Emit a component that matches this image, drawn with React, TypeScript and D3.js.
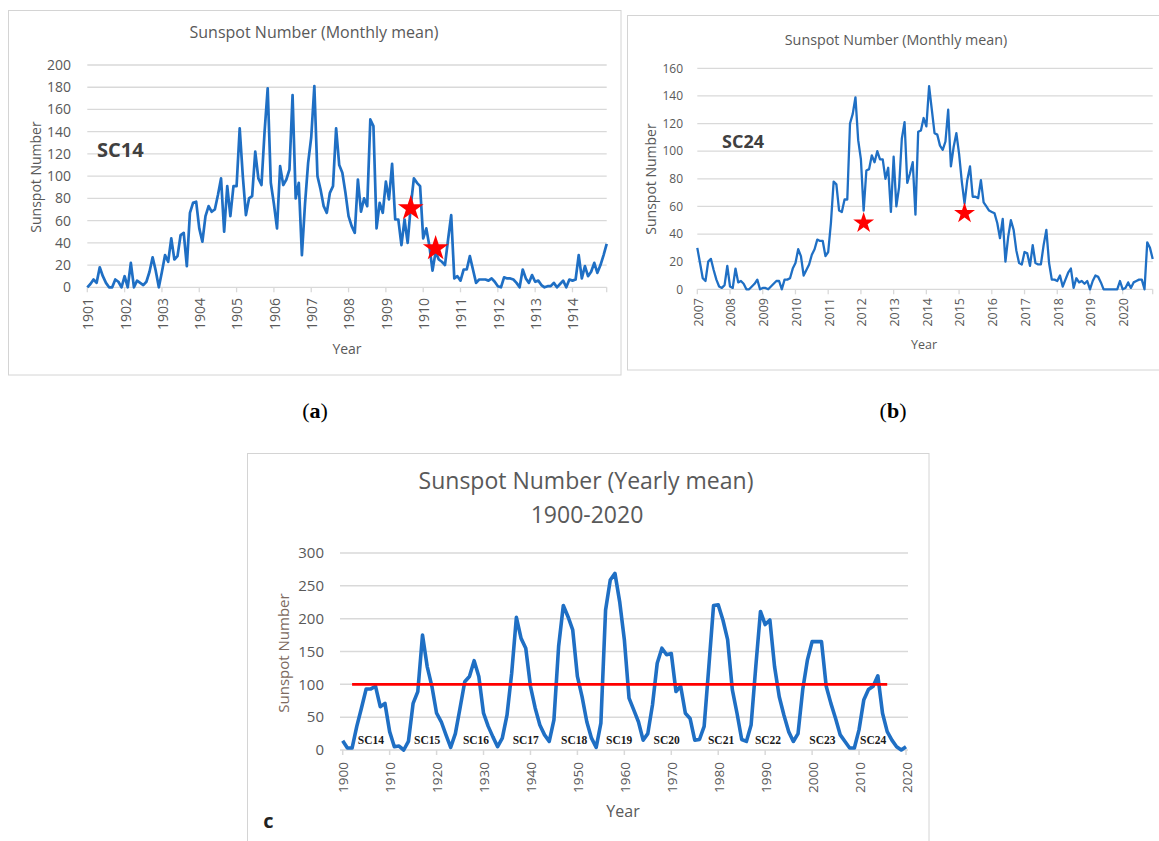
import React from 'react';
import * as d3 from 'd3';

// ---- data ----

// (a) monthly mean sunspot number, Jan 1901 .. Dec 1914
const sc14Monthly = [
  0, 3, 7, 4, 18, 10, 4, 0, 0, 7, 5, 0,
  10, 0, 22, 0, 6, 4, 2, 5, 14, 27, 15, 0,
  14, 29, 23, 44, 25, 28, 47, 49, 19, 67, 76, 77,
  53, 41, 64, 73, 68, 70, 83, 98, 50, 91, 64, 91,
  91, 143, 100, 65, 80, 82, 122, 98, 92, 140, 179, 94,
  75, 53, 109, 92, 97, 106, 173, 80, 94, 29, 75, 112,
  135, 181, 100, 88, 73, 67, 85, 91, 143, 110, 103, 85,
  64, 55, 49, 97, 68, 80, 73, 151, 145, 53, 76, 67,
  95, 79, 111, 61, 61, 38, 61, 40, 73, 98, 94, 91,
  44, 53, 37, 15, 32, 25, 23, 20, 43, 65, 8, 10,
  6, 16, 16, 28, 16, 4, 7, 7, 7, 6, 8, 5,
  1, 0, 9, 8, 8, 7, 4, 0, 16, 8, 4, 11,
  5, 6, 2, 0, 1, 1, 4, 0, 3, 6, 0, 7,
  6, 7, 29, 8, 19, 10, 14, 22, 13, 20, 29, 39,
];
const sc14Years = ['1901', '1902', '1903', '1904', '1905', '1906', '1907', '1908', '1909', '1910', '1911', '1912', '1913', '1914'];
const sc14Stars = [
  { month: 104, value: 71 },
  { month: 112, value: 35 },
];

// (b) monthly mean sunspot number, Jan 2007 .. Dec 2020
const sc24Monthly = [
  30, 19, 8, 6, 20, 22, 14, 7, 2, 1, 3, 17,
  2, 1, 15, 5, 6, 4, 0, 0, 2, 4, 7, 0,
  1, 1, 0, 2, 4, 6, 6, 0, 7, 7, 8, 15,
  19, 29, 24, 10, 14, 18, 25, 29, 36, 35, 35, 24,
  27, 48, 78, 76, 57, 56, 65, 65, 120, 127, 139, 108,
  94, 57, 86, 87, 97, 92, 100, 94, 94, 80, 88, 56,
  96, 60, 74, 109, 121, 77, 84, 92, 54, 114, 115, 124,
  118, 147, 130, 113, 112, 104, 101, 107, 130, 89, 103, 113,
  98, 78, 62, 79, 89, 67, 67, 66, 79, 63, 60, 57,
  56, 55, 48, 37, 51, 20, 38, 50, 43, 28, 19, 18,
  27, 26, 17, 32, 19, 18, 18, 32, 43, 19, 7, 7,
  6, 10, 2, 7, 12, 15, 1, 8, 5, 6, 4, 6,
  0, 6, 10, 9, 5, 0, 0, 0, 0, 0, 0, 6,
  0, 1, 5, 1, 5, 6, 7, 7, 0, 34, 30, 22,
];
const sc24Years = ['2007', '2008', '2009', '2010', '2011', '2012', '2013', '2014', '2015', '2016', '2017', '2018', '2019', '2020'];
const sc24Stars = [
  { month: 61, value: 48 },
  { month: 98, value: 55 },
];

// (c) yearly mean sunspot number, 1900 .. 2020
const firstYear = 1900;
const yearlyMean = [
  14, 3, 3, 36, 64, 93, 93, 97, 66, 71,
  28, 5, 6, 0, 13, 71, 89, 175, 127, 97,
  56, 43, 23, 4, 25, 64, 104, 112, 136, 112,
  56, 36, 20, 5, 18, 53, 117, 202, 170, 155,
  97, 64, 38, 23, 13, 46, 158, 220, 203, 183,
  112, 81, 43, 18, 4, 41, 213, 259, 269, 226,
  168, 79, 61, 43, 15, 25, 69, 132, 155, 145,
  147, 89, 97, 56, 48, 15, 16, 36, 127, 220,
  221, 198, 168, 92, 56, 16, 13, 38, 127, 211,
  191, 198, 127, 81, 53, 28, 13, 25, 92, 137,
  165, 165, 165, 97, 71, 48, 23, 13, 3, 3,
  31, 76, 92, 97, 113, 56, 28, 15, 5, 0,
  5,
];
const decadeLabels = ['1900', '1910', '1920', '1930', '1940', '1950', '1960', '1970', '1980', '1990', '2000', '2010', '2020'];
const cycleNames = ['SC14', 'SC15', 'SC16', 'SC17', 'SC18', 'SC19', 'SC20', 'SC21', 'SC22', 'SC23', 'SC24'];
const cycleLabelYears = [1906, 1918, 1928.4, 1939, 1949.3, 1958.9, 1969, 1980.6, 1990.6, 2002.2, 2013];
const thresholdLine = { value: 100, from: 1902, to: 2016 };

// ---- styling ----
const BLUE = '#1f6fc4';
const RED = '#ff0000';
const GRID = '#d9d9d9';
const BORDER = '#d4d4d4';
const TEXT = '#595959';
const FONT = "'Open Sans', 'Noto Sans', sans-serif";

type Star = { month: number; value: number };

interface MonthlyProps {
  values: number[];
  years: string[];
  stars: Star[];
  cycle: string;
  box: { x: number; y: number; w: number; h: number };
  left: number;
  right: number;
  top: number;
  bottom: number;
  yMax: number;
  title: { x: number; y: number; size: number };
  yTickX: number;
  yTickSize: number;
  xLabelY: number;
  xTickSize: number;
  yTitle: { x: number; y: number; size: number };
  xTitle: { x: number; y: number; size: number };
  cycleLabel: { x: number; y: number; size: number };
  starR: number;
  lineWidth: number;
}

const MonthlyPanel: React.FC<MonthlyProps> = (p) => {
  const x = d3.scaleLinear().domain([0, p.values.length - 1]).range([p.left, p.right]);
  const y = d3.scaleLinear().domain([0, p.yMax]).range([p.bottom, p.top]);
  const line = d3.line<number>().x((_, i) => x(i)).y(d => y(d));
  const yTicks = y.ticks(p.yMax / 20);
  const tickIdx = p.years.map((_, k) => k * 12).concat([p.values.length - 1]);
  const star = d3.symbol().type(d3.symbolStar).size((p.starR * p.starR) / 0.8908130915)();

  return (
    <g>
      <rect x={p.box.x} y={p.box.y} width={p.box.w} height={p.box.h} fill="#fff" stroke={BORDER} strokeWidth={1} />
      <text x={p.title.x} y={p.title.y} textAnchor="middle" fontSize={p.title.size} fill={TEXT}>
        Sunspot Number (Monthly mean)
      </text>

      {yTicks.map(t => (
        <line key={`g${t}`} x1={p.left} x2={p.right} y1={y(t)} y2={y(t)} stroke={GRID} strokeWidth={1.3} />
      ))}
      {tickIdx.map(i => (
        <line key={`t${i}`} x1={x(i)} x2={x(i)} y1={y(0)} y2={y(0) + 5} stroke={GRID} strokeWidth={1.3} />
      ))}

      <path d={line(p.values) || ''} fill="none" stroke={BLUE} strokeWidth={p.lineWidth} strokeLinejoin="round" />

      {p.stars.map((s, k) => (
        <path key={`s${k}`} d={star || ''} transform={`translate(${x(s.month)},${y(s.value)})`} fill={RED} />
      ))}

      {yTicks.map(t => (
        <text key={`y${t}`} x={p.yTickX} y={y(t)} dy="0.35em" textAnchor="end" fontSize={p.yTickSize} fill={TEXT}>
          {t}
        </text>
      ))}
      {p.years.map((label, k) => (
        <text
          key={label}
          transform={`translate(${x(k * 12) + 1},${p.xLabelY}) rotate(-90)`}
          dy="0.35em"
          textAnchor="end"
          fontSize={p.xTickSize}
          fill={TEXT}
        >
          {label}
        </text>
      ))}

      <text
        transform={`translate(${p.yTitle.x},${p.yTitle.y}) rotate(-90)`}
        dy="0.35em"
        textAnchor="middle"
        fontSize={p.yTitle.size}
        fill={TEXT}
      >
        Sunspot Number
      </text>
      <text x={p.xTitle.x} y={p.xTitle.y} textAnchor="middle" fontSize={p.xTitle.size} fill={TEXT}>
        Year
      </text>
      <text x={p.cycleLabel.x} y={p.cycleLabel.y} fontSize={p.cycleLabel.size} fontWeight="bold" fill="#404040">
        {p.cycle}
      </text>
    </g>
  );
};

const YearlyPanel: React.FC = () => {
  const left = 342.7;
  const right = 906;
  const top = 553;
  const bottom = 750;
  const x = d3.scaleLinear().domain([firstYear, firstYear + yearlyMean.length - 1]).range([left, right]);
  const y = d3.scaleLinear().domain([0, 300]).range([bottom, top]);
  const line = d3.line<number>().x((_, i) => x(firstYear + i)).y(d => y(d));
  const yTicks = y.ticks(6);

  return (
    <g>
      <rect x={247.5} y={453.5} width={681.5} height={400} fill="#fff" stroke={BORDER} strokeWidth={1} />
      <text x={586} y={489} textAnchor="middle" fontSize={23} fill={TEXT}>
        Sunspot Number (Yearly mean)
      </text>
      <text x={587} y={523} textAnchor="middle" fontSize={23} fill={TEXT}>
        1900-2020
      </text>

      {yTicks.map(t => (
        <line key={`g${t}`} x1={340} x2={908} y1={y(t)} y2={y(t)} stroke={GRID} strokeWidth={1.5} />
      ))}
      {decadeLabels.map(d => (
        <line key={`t${d}`} x1={x(+d)} x2={x(+d)} y1={bottom} y2={bottom + 5} stroke={GRID} strokeWidth={1.5} />
      ))}

      <path d={line(yearlyMean) || ''} fill="none" stroke={BLUE} strokeWidth={3.6} strokeLinejoin="round" />
      <line
        x1={x(thresholdLine.from)}
        x2={x(thresholdLine.to)}
        y1={y(thresholdLine.value)}
        y2={y(thresholdLine.value)}
        stroke={RED}
        strokeWidth={2.6}
      />

      {cycleNames.map((n, k) => (
        <text
          key={n}
          x={x(cycleLabelYears[k])}
          y={744}
          textAnchor="middle"
          fontSize={11.5}
          fontWeight="bold"
          fontFamily="'Liberation Serif', serif"
          fill="#1a1a1a"
        >
          {n}
        </text>
      ))}

      {yTicks.map(t => (
        <text key={`y${t}`} x={324} y={y(t)} dy="0.35em" textAnchor="end" fontSize={15} fill={TEXT}>
          {t}
        </text>
      ))}
      {decadeLabels.map(d => (
        <text
          key={d}
          transform={`translate(${x(+d) + 1},762) rotate(-90)`}
          dy="0.35em"
          textAnchor="end"
          fontSize={13.5}
          fill={TEXT}
        >
          {d}
        </text>
      ))}

      <text transform="translate(284,653) rotate(-90)" dy="0.35em" textAnchor="middle" fontSize={15} fill="#7d6a60">
        Sunspot Number
      </text>
      <text x={623} y={817} textAnchor="middle" fontSize={16} fill={TEXT}>
        Year
      </text>
      <text x={268.5} y={828} textAnchor="middle" fontSize={20} fontWeight="bold" fill="#222">
        c
      </text>
    </g>
  );
};

export default function App() {
  return (
    <svg
      width={1159}
      height={841}
      viewBox="0 0 1159 841"
      style={{ position: 'absolute', left: 0, top: 0, background: '#fff' }}
      fontFamily={FONT}
    >
      <rect x={0} y={0} width={1159} height={841} fill="#fff" />

      <MonthlyPanel
        values={sc14Monthly}
        years={sc14Years}
        stars={sc14Stars}
        cycle="SC14"
        box={{ x: 8.5, y: 10.5, w: 612.5, h: 364.5 }}
        left={87.3}
        right={606.7}
        top={65}
        bottom={287.3}
        yMax={200}
        title={{ x: 314, y: 38, size: 16 }}
        yTickX={71}
        yTickSize={14}
        xLabelY={298}
        xTickSize={14}
        yTitle={{ x: 36, y: 177, size: 14 }}
        xTitle={{ x: 347, y: 354, size: 14 }}
        cycleLabel={{ x: 97, y: 157, size: 20 }}
        starR={13.5}
        lineWidth={2.7}
      />

      <MonthlyPanel
        values={sc24Monthly}
        years={sc24Years}
        stars={sc24Stars}
        cycle="SC24"
        box={{ x: 627.5, y: 15.5, w: 540, h: 354.5 }}
        left={697.3}
        right={1152.7}
        top={68.3}
        bottom={289.3}
        yMax={160}
        title={{ x: 896, y: 45, size: 14.3 }}
        yTickX={683}
        yTickSize={12}
        xLabelY={298}
        xTickSize={12.5}
        yTitle={{ x: 651, y: 179, size: 14 }}
        xTitle={{ x: 924, y: 349, size: 12.5 }}
        cycleLabel={{ x: 722, y: 148, size: 18 }}
        starR={11}
        lineWidth={2.3}
      />

      <text x={315} y={418} textAnchor="middle" fontSize={22} fontFamily="'Liberation Serif', serif" fill="#000">
        (<tspan fontWeight="bold">a</tspan>)
      </text>
      <text x={893} y={418} textAnchor="middle" fontSize={22} fontFamily="'Liberation Serif', serif" fill="#000">
        (<tspan fontWeight="bold">b</tspan>)
      </text>

      <YearlyPanel />
    </svg>
  );
}
